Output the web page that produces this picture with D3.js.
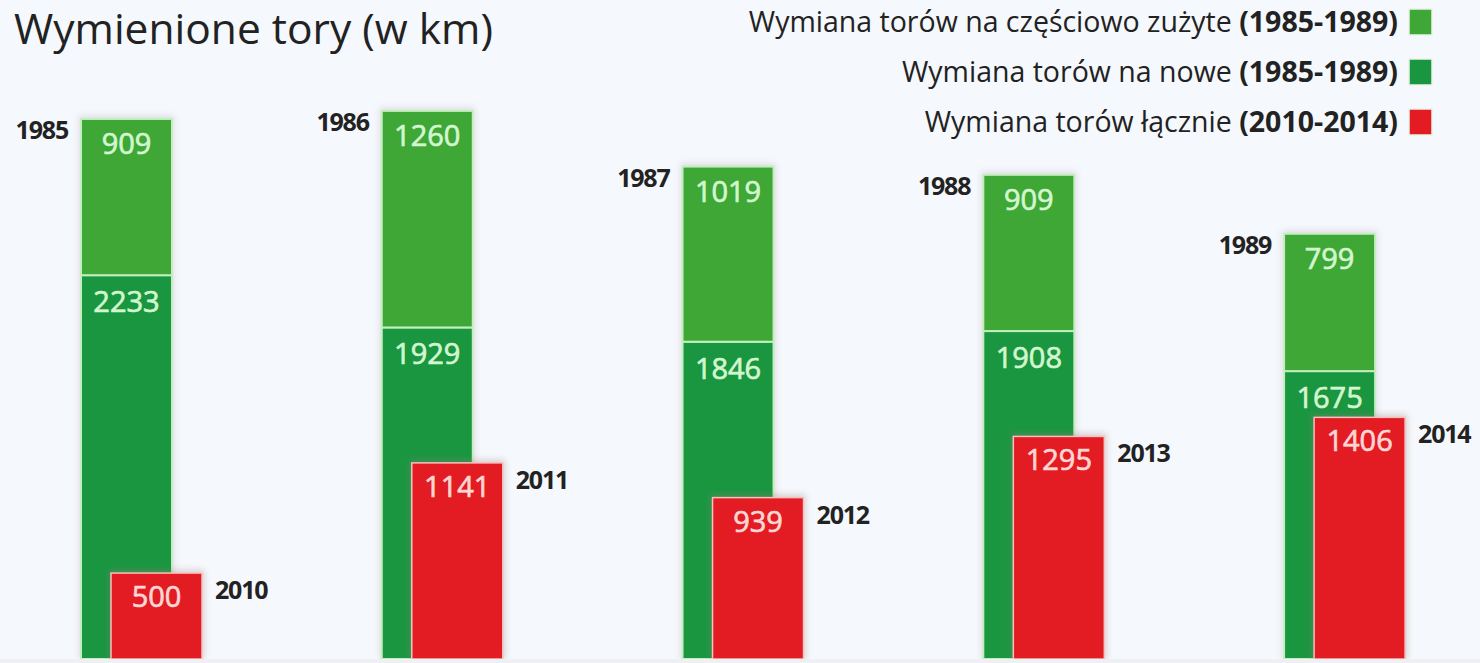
<!DOCTYPE html>
<html>
<head>
<meta charset="utf-8">
<script src="https://cdn.jsdelivr.net/npm/d3@7"></script>
<style>
  body { margin: 0; background: #f5f8fc; }
  svg { display: block; font-family: "Open Sans", sans-serif; }
</style>
</head>
<body>
<div id="chart"></div>
<script>
// Data
const oldYears = ["1985", "1986", "1987", "1988", "1989"];
const newYears = ["2010", "2011", "2012", "2013", "2014"];
const replacedNew = [2233, 1929, 1846, 1908, 1675];      // dark green, bottom
const replacedPartial = [909, 1260, 1019, 909, 799];      // light green, top
const replacedTotal = [500, 1141, 939, 1295, 1406];       // red

const legendLabels = [
    { text: "Wymiana torów na częściowo zużyte ", bold: "(1985-1989)", color: "#3fa736" },
    { text: "Wymiana torów na nowe ", bold: "(1985-1989)", color: "#1a9540" },
    { text: "Wymiana torów łącznie ", bold: "(2010-2014)", color: "#e31b23" }
];

const width = 1480;
const height = 663;
const baseY = 659;
const barW = 91;
const redOffset = 30;

const svg = d3.select("#chart").append("svg")
    .attr("width", width)
    .attr("height", height);

svg.append("rect")
    .attr("width", width)
    .attr("height", height)
    .attr("fill", "#f5f8fc");

// soft glow behind bars
const defs = svg.append("defs");
const glow = defs.append("filter").attr("id", "glow")
    .attr("x", "-20%").attr("y", "-20%").attr("width", "140%").attr("height", "140%");
glow.append("feGaussianBlur").attr("stdDeviation", 3);

// Title
svg.append("text")
    .attr("x", 14)
    .attr("y", 44)
    .attr("font-size", 42.5)
    .attr("fill", "#222")
    .text("Wymienione tory (w km)");

// Scales
const x = d3.scaleBand()
    .domain(d3.range(oldYears.length))
    .range([81, 1405])
    .paddingInner(0.598)
    .paddingOuter(0);

const y = d3.scaleLinear()
    .domain([0, 3200])
    .range([baseY, 109]);

const idx = d3.range(oldYears.length);

// Green stacked bars
const groups = svg.selectAll("g.bar")
    .data(idx)
    .enter()
    .append("g")
    .attr("class", "bar");

// shadow
groups.append("rect")
    .attr("x", i => x(i) - 2)
    .attr("y", i => y(replacedNew[i] + replacedPartial[i]) - 3)
    .attr("width", barW + 4)
    .attr("height", i => baseY - y(replacedNew[i] + replacedPartial[i]) + 3)
    .attr("fill", "#c9c0cc")
    .attr("opacity", 0.5)
    .attr("filter", "url(#glow)");

groups.append("rect")
    .attr("x", i => x(i))
    .attr("y", i => y(replacedNew[i]))
    .attr("width", barW)
    .attr("height", i => baseY - y(replacedNew[i]))
    .attr("fill", "#1a9540")
    .attr("stroke", "#c2efbd")
    .attr("stroke-width", 2);

groups.append("rect")
    .attr("x", i => x(i))
    .attr("y", i => y(replacedNew[i] + replacedPartial[i]))
    .attr("width", barW)
    .attr("height", i => y(replacedNew[i]) - y(replacedNew[i] + replacedPartial[i]))
    .attr("fill", "#3fa736")
    .attr("stroke", "#c2efbd")
    .attr("stroke-width", 2);

// value labels on green
groups.append("text")
    .attr("class", "val")
    .attr("x", i => x(i) + barW / 2)
    .attr("y", i => y(replacedNew[i] + replacedPartial[i]) + 35)
    .attr("fill", "#d2f7cf")
    .attr("stroke", "#d2f7cf")
    .text(i => replacedPartial[i]);

groups.append("text")
    .attr("class", "val")
    .attr("x", i => x(i) + barW / 2)
    .attr("y", i => y(replacedNew[i]) + 37)
    .attr("fill", "#d2f7cf")
    .attr("stroke", "#d2f7cf")
    .text(i => replacedNew[i]);

// old year labels
groups.append("text")
    .attr("class", "yr")
    .attr("x", i => x(i) - 13)
    .attr("y", i => y(replacedNew[i] + replacedPartial[i]) + 20)
    .attr("text-anchor", "end")
    .text(i => oldYears[i]);

// Red bars
groups.append("rect")
    .attr("x", i => x(i) + redOffset - 2)
    .attr("y", i => y(replacedTotal[i]) - 3)
    .attr("width", barW + 4)
    .attr("height", i => baseY - y(replacedTotal[i]) + 3)
    .attr("fill", "#a08080")
    .attr("opacity", 0.35)
    .attr("filter", "url(#glow)");

groups.append("rect")
    .attr("x", i => x(i) + redOffset)
    .attr("y", i => y(replacedTotal[i]))
    .attr("width", barW)
    .attr("height", i => baseY - y(replacedTotal[i]))
    .attr("fill", "#e31b23")
    .attr("stroke", "#f6c2bf")
    .attr("stroke-width", 1.5);

groups.append("text")
    .attr("class", "val")
    .attr("x", i => x(i) + redOffset + barW / 2)
    .attr("y", i => y(replacedTotal[i]) + 34)
    .attr("fill", "#ffd6d3")
    .attr("stroke", "#ffd6d3")
    .text(i => replacedTotal[i]);

groups.append("text")
    .attr("class", "yr")
    .attr("x", i => x(i) + redOffset + barW + 13)
    .attr("y", i => y(replacedTotal[i]) + 26)
    .text(i => newYears[i]);

svg.selectAll("text.val")
    .attr("text-anchor", "middle")
    .attr("font-size", 29)
    .attr("stroke-width", 0.7);

svg.selectAll("text.yr")
    .attr("font-size", 25)
    .attr("font-weight", "bold")
    .attr("letter-spacing", -1.2)
    .attr("fill", "#222");

// baseline
svg.append("rect")
    .attr("x", 0)
    .attr("y", baseY)
    .attr("width", width)
    .attr("height", 4)
    .attr("fill", "#eef0f4");

// Legend
const legend = svg.append("g").attr("class", "legend");
const rows = legend.selectAll("g")
    .data(legendLabels)
    .enter()
    .append("g")
    .attr("transform", (d, i) => `translate(0, ${i * 50})`);

rows.append("rect")
    .attr("x", 1409)
    .attr("y", 9)
    .attr("width", 23)
    .attr("height", 26)
    .attr("fill", d => d.color)
    .attr("stroke", "#e8f4e8")
    .attr("stroke-width", 1.5);

const lt = rows.append("text")
    .attr("x", 1398)
    .attr("y", 32)
    .attr("text-anchor", "end")
    .attr("font-size", 28.5)
    .attr("fill", "#222");
lt.append("tspan").text(d => d.text);
lt.append("tspan").attr("font-weight", "bold").text(d => d.bold);
</script>
</body>
</html>
